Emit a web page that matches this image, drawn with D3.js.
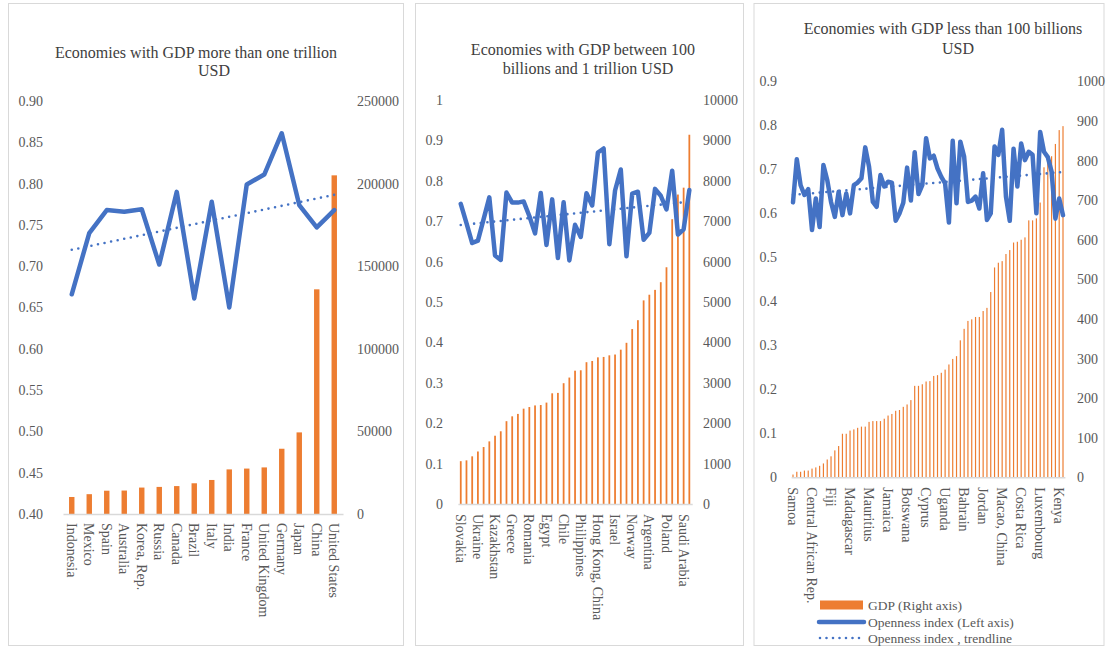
<!DOCTYPE html>
<html><head><meta charset="utf-8">
<script src="https://cdn.jsdelivr.net/npm/d3@7"></script>
<style>
html,body{margin:0;padding:0;background:#fff;}
svg{display:block;}
</style></head><body>
<svg id="chart" width="1107" height="648"></svg>
<script>
// ---------------- DATA ----------------
const p1Title = ["Economies with GDP more than one trillion", "USD"];
const p1Categories = ["Indonesia","Mexico","Spain","Australia","Korea, Rep.","Russia","Canada","Brazil","Italy","India","France","United Kingdom","Germany","Japan","China","United States"];
const p1GDP = [10300,12000,14100,14200,16000,16400,16900,18600,20600,27000,27500,28200,39500,49400,136000,205000];
const p1Openness = [0.666,0.740,0.768,0.766,0.769,0.702,0.790,0.661,0.778,0.650,0.799,0.811,0.861,0.774,0.747,0.768];
const p1LeftTicks = [0.40,0.45,0.50,0.55,0.60,0.65,0.70,0.75,0.80,0.85,0.90];
const p1RightTicks = [0,50000,100000,150000,200000,250000];

const p2Title = ["Economies with GDP between 100", "billions and 1 trillion USD"];
const p2Categories = ["Slovakia","Ecuador","Morocco","Ukraine","Kuwait","Hungary","Kazakhstan","Qatar","New Zealand","Greece","Peru","Iraq","Romania","Portugal","Czech Republic","Egypt","Bangladesh","Finland","Chile","Pakistan","Colombia","Philippines","Denmark","Malaysia","Hong Kong, China","Singapore","South Africa","Israel","Ireland","Nigeria","Norway","Austria","Thailand","Argentina","Belgium","Sweden","Poland","Switzerland","Turkey","Saudi Arabia","Netherlands"];
const p2GDP = [1060,1080,1180,1300,1410,1550,1690,1800,2050,2170,2230,2360,2400,2440,2450,2510,2740,2750,2990,3130,3300,3310,3510,3540,3630,3640,3680,3700,3820,3990,4330,4550,5040,5180,5300,5490,5860,7050,7660,7830,9140];
const p2Openness = [0.743,0.695,0.646,0.652,0.705,0.759,0.615,0.604,0.771,0.746,0.746,0.749,0.713,0.670,0.770,0.641,0.754,0.609,0.747,0.603,0.691,0.661,0.769,0.739,0.870,0.880,0.643,0.776,0.828,0.613,0.768,0.773,0.654,0.671,0.780,0.763,0.729,0.825,0.667,0.680,0.777];
const p2LeftTicks = [0,0.1,0.2,0.3,0.4,0.5,0.6,0.7,0.8,0.9,1];
const p2RightTicks = [0,1000,2000,3000,4000,5000,6000,7000,8000,9000,10000];

const p3Title = ["Economies with GDP less than 100 billions", "USD"];
const p3Categories = ["Samoa","Comoros","Guinea-Bissau","Seychelles","Gambia, The","Central African Rep.","Lesotho","Burundi","Liberia","Eswatini","Fiji","Malawi","Tajikistan","Moldova","Chad","Madagascar","Benin","Guinea","Haiti","Rwanda","Mauritius","Armenia","North Macedonia","Mongolia","Nicaragua","Jamaica","Burkina Faso","Malta","Mozambique","Albania","Botswana","Mali","Georgia","Gabon","Lao PDR","Cyprus","Bosnia and Herzegovina","Senegal","Papua New Guinea","Trinidad and Tobago","Uganda","Iceland","Honduras","Zambia","Nepal","Bahrain","Estonia","Latvia","Cameroon","Paraguay","Jordan","Tunisia","Cote d'Ivoire","Serbia","Lithuania","Macao, China","Slovenia","Tanzania","Lebanon","Uruguay","Costa Rica","Belarus","Croatia","Bulgaria","Panama","Luxembourg","Myanmar","Guatemala","Oman","Ethiopia","Kenya","Sri Lanka"];
const p3GDP = [7,14,14,17,17,22,25,29,35,45,53,68,79,110,110,118,121,125,128,128,140,142,142,142,148,156,160,168,170,178,184,195,231,231,235,242,243,256,258,264,272,285,299,306,346,375,395,399,405,405,420,428,468,530,542,546,564,574,593,595,600,606,649,649,654,694,783,795,811,842,877,887];
const p3Openness = [0.625,0.723,0.664,0.642,0.655,0.562,0.634,0.569,0.710,0.676,0.626,0.592,0.649,0.596,0.645,0.600,0.664,0.670,0.680,0.750,0.706,0.626,0.615,0.687,0.661,0.672,0.670,0.583,0.600,0.624,0.704,0.629,0.739,0.644,0.664,0.771,0.725,0.731,0.702,0.683,0.668,0.579,0.765,0.623,0.763,0.729,0.626,0.629,0.638,0.611,0.691,0.585,0.600,0.752,0.733,0.790,0.638,0.583,0.747,0.661,0.759,0.721,0.740,0.733,0.600,0.785,0.740,0.728,0.695,0.588,0.634,0.596];
const p3LeftTicks = [0,0.1,0.2,0.3,0.4,0.5,0.6,0.7,0.8,0.9];
const p3RightTicks = [0,100,200,300,400,500,600,700,800,900,1000];

const legendLabels = ["GDP (Right axis)", "Openness index (Left axis)", "Openness index , trendline"];

// ---------------- LAYOUT / STYLE ----------------
const FONT = "'Liberation Serif','DejaVu Serif',serif";
const ORANGE = "#ED7D31", BLUE = "#4472C4", GRAY = "#D9D9D9", TXT = "#595959", TTL = "#404040";
const svg = d3.select("#chart");

const panels = [
  {title:p1Title, cats:p1Categories, gdp:p1GDP, open:p1Openness, lT:p1LeftTicks, rT:p1RightTicks,
   lFmt:d3.format(".2f"), every:1, box:[8,3,395,642], xr:[63,343], yr:[514,101], lx:43, rx:357,
   tpos:[[196,52],[214,70]], labGap:9},
  {title:p2Title, cats:p2Categories, gdp:p2GDP, open:p2Openness, lT:p2LeftTicks, rT:p2RightTicks,
   lFmt:d3.format("~g"), every:3, box:[415,3,328,642], xr:[457.9,692.2], yr:[504,100], lx:443, rx:703,
   tpos:[[583,49],[588,68]], labGap:10},
  {title:p3Title, cats:p3Categories, gdp:p3GDP, open:p3Openness, lT:p3LeftTicks, rT:p3RightTicks,
   lFmt:d3.format("~g"), every:5, box:[753.5,3,350,642], xr:[791.1,1064.9], yr:[477.3,81.4], lx:777, rx:1077,
   tpos:[[943,28],[958,48]], labGap:10}
];

panels.forEach((p, pi) => {
  const g = svg.append("g");
  g.append("rect").attr("x",p.box[0]+0.5).attr("y",p.box[1]+0.5).attr("width",p.box[2]).attr("height",p.box[3])
    .attr("fill","#fff").attr("stroke",GRAY).attr("stroke-width",1);

  p.title.forEach((t,i) => {
    g.append("text").attr("x",p.tpos[i][0]).attr("y",p.tpos[i][1]).attr("dy","0.35em")
      .attr("text-anchor","middle").attr("font-family",FONT).attr("font-size",16).attr("fill",TTL).text(t);
  });

  const x = d3.scaleBand().domain(p.cats).range(p.xr).paddingInner(0).paddingOuter(0);
  const yL = d3.scaleLinear().domain([p.lT[0], p.lT[p.lT.length-1]]).range(p.yr);
  const yR = d3.scaleLinear().domain([p.rT[0], p.rT[p.rT.length-1]]).range(p.yr);
  const bw = x.bandwidth(), barW = bw*0.31;

  // bars
  g.append("g").selectAll("rect").data(p.gdp).join("rect")
    .attr("x",(d,i)=>x(p.cats[i]) + (bw-barW)/2).attr("width",barW)
    .attr("y",d=>yR(d)).attr("height",d=>yR(0)-yR(d)).attr("fill",ORANGE);

  // bottom axis
  const ax = g.append("g").attr("transform",`translate(0,${p.yr[0]})`)
    .call(d3.axisBottom(x).tickValues(p.cats.filter((c,i)=>i%p.every===0)).tickSize(0).tickSizeOuter(0));
  ax.attr("font-family",FONT).attr("font-size",14);
  ax.select(".domain").attr("stroke",GRAY).attr("stroke-width",1.4);
  ax.selectAll("text").attr("transform","rotate(90)").attr("x",p.labGap).attr("y",0).attr("dy","0.35em")
    .attr("text-anchor","start").attr("fill",TXT);

  // left axis
  const al = g.append("g").attr("transform",`translate(${p.lx},0)`)
    .call(d3.axisLeft(yL).tickValues(p.lT).tickFormat(p.lFmt).tickSize(0).tickPadding(0));
  al.attr("font-family",FONT).attr("font-size",14);
  al.select(".domain").remove();
  al.selectAll("text").attr("fill",TXT);

  // right axis
  const ar = g.append("g").attr("transform",`translate(${p.rx},0)`)
    .call(d3.axisRight(yR).tickValues(p.rT).tickFormat(d3.format("d")).tickSize(0).tickPadding(0));
  ar.attr("font-family",FONT).attr("font-size",14);
  ar.select(".domain").remove();
  ar.selectAll("text").attr("fill",TXT);

  // openness line
  const cx = i => x(p.cats[i]) + bw/2;
  const line = d3.line().x((d,i)=>cx(i)).y(d=>yL(d));
  g.append("path").datum(p.open).attr("d",line).attr("fill","none").attr("stroke",BLUE)
    .attr("stroke-width",4.5).attr("stroke-linejoin","round").attr("stroke-linecap","round");

  // linear trendline (least squares on category index)
  const n = p.open.length, mx = (n-1)/2, my = d3.mean(p.open);
  let sxy=0, sxx=0;
  p.open.forEach((v,i)=>{ sxy += (i-mx)*(v-my); sxx += (i-mx)*(i-mx); });
  const slope = sxy/sxx, icpt = my - slope*mx;
  const trend = [0, n-1].map(i => [cx(i), yL(icpt + slope*i)]);
  g.append("path").attr("d", d3.line()(trend)).attr("fill","none").attr("stroke",BLUE)
    .attr("stroke-width",2.6).attr("stroke-linecap","round").attr("stroke-dasharray","0 6.7");
});

// legend (third panel)
const lg = svg.append("g").attr("font-family",FONT).attr("font-size",13.5).attr("fill",TXT);
lg.append("rect").attr("x",820).attr("y",600.5).attr("width",43).attr("height",9).attr("fill",ORANGE);
lg.append("line").attr("x1",819).attr("x2",864).attr("y1",622).attr("y2",622).attr("stroke",BLUE)
  .attr("stroke-width",4.5).attr("stroke-linecap","round");
lg.append("line").attr("x1",820).attr("x2",862).attr("y1",638).attr("y2",638).attr("stroke",BLUE)
  .attr("stroke-width",2.6).attr("stroke-linecap","round").attr("stroke-dasharray","0 6.5");
[605,622,638].forEach((yy,i)=>{
  lg.append("text").attr("x",868).attr("y",yy).attr("dy","0.35em").text(legendLabels[i]);
});
</script></body></html>
